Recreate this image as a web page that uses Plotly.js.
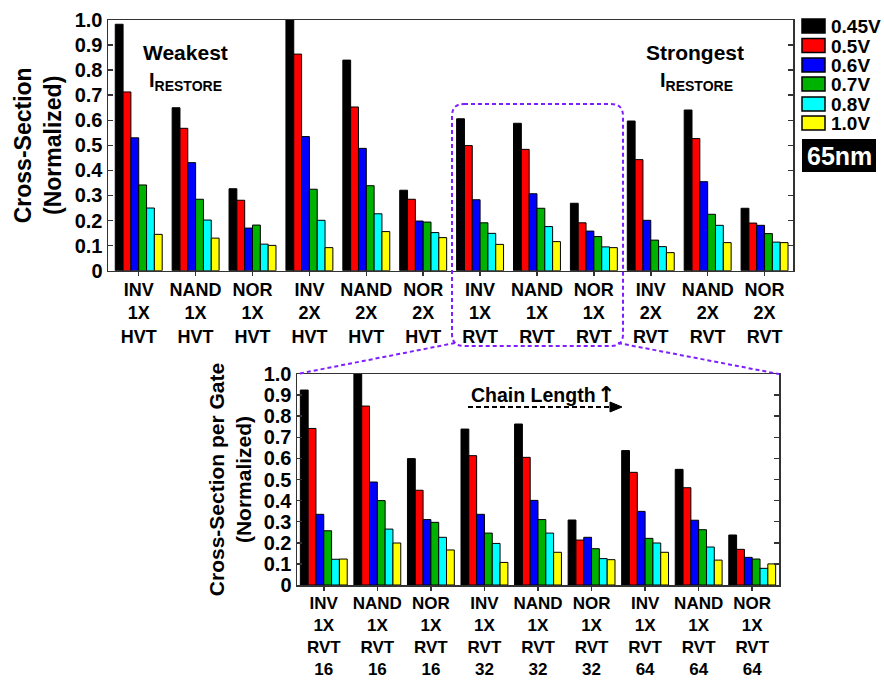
<!DOCTYPE html>
<html>
<head>
<meta charset="utf-8">
<script src="https://cdn.plot.ly/plotly-3.0.1.min.js"></script>
<style>body{margin:0;background:#fff}</style>
</head>
<body>
<div id="chart" style="width:884px;height:681px"></div>
<script>
// ---------- data ----------
const VOLTAGES = ['0.45V', '0.5V', '0.6V', '0.7V', '0.8V', '1.0V'];
const COLORS = ['#000000', '#FF0000', '#0000FF', '#00B200', '#00FFFF', '#FFFF00'];

const TOP_CATS = ['INV<br>1X<br>HVT', 'NAND<br>1X<br>HVT', 'NOR<br>1X<br>HVT',
                  'INV<br>2X<br>HVT', 'NAND<br>2X<br>HVT', 'NOR<br>2X<br>HVT',
                  'INV<br>1X<br>RVT', 'NAND<br>1X<br>RVT', 'NOR<br>1X<br>RVT',
                  'INV<br>2X<br>RVT', 'NAND<br>2X<br>RVT', 'NOR<br>2X<br>RVT'];
const TOP_045 = [0.983, 0.650, 0.327, 1.000, 0.840, 0.321, 0.606, 0.588, 0.269, 0.597, 0.641, 0.249];
const TOP_05  = [0.713, 0.568, 0.281, 0.864, 0.653, 0.285, 0.499, 0.484, 0.191, 0.443, 0.527, 0.190];
const TOP_06  = [0.530, 0.431, 0.170, 0.535, 0.488, 0.198, 0.283, 0.307, 0.158, 0.201, 0.355, 0.181];
const TOP_07  = [0.342, 0.285, 0.182, 0.325, 0.339, 0.194, 0.191, 0.249, 0.136, 0.122, 0.225, 0.148];
const TOP_08  = [0.250, 0.202, 0.106, 0.201, 0.227, 0.152, 0.149, 0.176, 0.095, 0.096, 0.181, 0.114];
const TOP_10  = [0.145, 0.130, 0.101, 0.092, 0.156, 0.132, 0.105, 0.116, 0.092, 0.072, 0.112, 0.112];

const BOT_CATS = ['INV<br>1X<br>RVT<br>16', 'NAND<br>1X<br>RVT<br>16', 'NOR<br>1X<br>RVT<br>16',
                  'INV<br>1X<br>RVT<br>32', 'NAND<br>1X<br>RVT<br>32', 'NOR<br>1X<br>RVT<br>32',
                  'INV<br>1X<br>RVT<br>64', 'NAND<br>1X<br>RVT<br>64', 'NOR<br>1X<br>RVT<br>64'];
const BOT_045 = [0.924, 1.000, 0.599, 0.739, 0.763, 0.308, 0.637, 0.548, 0.237];
const BOT_05  = [0.742, 0.848, 0.449, 0.613, 0.605, 0.213, 0.534, 0.461, 0.169];
const BOT_06  = [0.335, 0.488, 0.310, 0.335, 0.401, 0.226, 0.349, 0.307, 0.131];
const BOT_07  = [0.257, 0.400, 0.297, 0.246, 0.310, 0.172, 0.221, 0.262, 0.123];
const BOT_08  = [0.122, 0.265, 0.226, 0.197, 0.246, 0.125, 0.199, 0.180, 0.079];
const BOT_10  = [0.123, 0.199, 0.166, 0.107, 0.155, 0.120, 0.155, 0.118, 0.100];

const Y_TICKVALS = [0, 0.1, 0.2, 0.3, 0.4, 0.5, 0.6, 0.7, 0.8, 0.9, 1.0];
const Y_TICKTEXT = ['0', '0.1', '0.2', '0.3', '0.4', '0.5', '0.6', '0.7', '0.8', '0.9', '1.0'];

const TOP_SERIES = [TOP_045, TOP_05, TOP_06, TOP_07, TOP_08, TOP_10];
const BOT_SERIES = [BOT_045, BOT_05, BOT_06, BOT_07, BOT_08, BOT_10];

// ---------- geometry helpers ----------
const W = 884, H = 681;
const px = x => x / W;
const py = y => 1 - y / H;
const P = (x, y) => px(x).toFixed(5) + ',' + py(y).toFixed(5);

const FONT = 'Liberation Sans, Arial, Helvetica, sans-serif';
const AXIS_COL = '#333333';
const PURPLE = '#7F1FFF';

// ---------- traces ----------
const traces = [];
const topW = 0.825 / 6, botW = 0.875 / 6;
VOLTAGES.forEach((v, k) => {
  traces.push({
    type: 'bar', name: v, x: TOP_CATS, y: TOP_SERIES[k], xaxis: 'x', yaxis: 'y',
    width: topW, offset: -0.4125 + k * topW,
    marker: {color: COLORS[k], line: {color: '#000', width: 1}},
    showlegend: false, hoverinfo: 'y'
  });
  traces.push({
    type: 'bar', name: v, x: BOT_CATS, y: BOT_SERIES[k], xaxis: 'x2', yaxis: 'y2',
    width: botW, offset: -0.4375 + k * botW,
    marker: {color: COLORS[k], line: {color: '#000', width: 1}},
    showlegend: false, hoverinfo: 'y'
  });
});

// ---------- axes ----------
const yCommon = {
  range: [0, 1], tickvals: Y_TICKVALS, ticktext: Y_TICKTEXT,
  ticks: 'inside', ticklen: 5, tickwidth: 1.5, tickcolor: AXIS_COL,
  showline: true, linecolor: AXIS_COL, linewidth: 1.5, mirror: 'ticks',
  showgrid: false, zeroline: false, automargin: false,
  tickfont: {family: FONT, size: 20, weight: 'bold', color: '#000'}
};
const xCommon = {
  type: 'category',
  ticks: 'outside', ticklen: 4, tickwidth: 1.5, tickcolor: AXIS_COL,
  showline: true, linecolor: AXIS_COL, linewidth: 1.5, mirror: true,
  showgrid: false, zeroline: false, automargin: false
};

const shapes = [];
const annotations = [];

// purple zoom box and connectors
const L = 452, T = 104, R = 623, B = 346, r = 12;
shapes.push({
  type: 'path', xref: 'paper', yref: 'paper',
  path: `M${P(L + r, T)} L${P(R - r, T)} Q${P(R, T)} ${P(R, T + r)} L${P(R, B - r)} Q${P(R, B)} ${P(R - r, B)} L${P(L + r, B)} Q${P(L, B)} ${P(L, B - r)} L${P(L, T + r)} Q${P(L, T)} ${P(L + r, T)} Z`,
  line: {color: PURPLE, width: 2, dash: '4px,3px'}, fillcolor: 'rgba(0,0,0,0)'
});
shapes.push({type: 'line', xref: 'paper', yref: 'paper', x0: px(455), y0: py(343), x1: px(297), y1: py(374),
  line: {color: PURPLE, width: 2, dash: '4px,3px'}});
shapes.push({type: 'line', xref: 'paper', yref: 'paper', x0: px(618), y0: py(343), x1: px(779), y1: py(374),
  line: {color: PURPLE, width: 2, dash: '4px,3px'}});

// custom legend
const LEG_Y = [26, 45.5, 65, 84, 104, 123];
VOLTAGES.forEach((v, k) => {
  shapes.push({type: 'rect', xref: 'paper', yref: 'paper',
    x0: px(802), x1: px(825), y0: py(LEG_Y[k] + 7), y1: py(LEG_Y[k] - 7),
    fillcolor: COLORS[k], line: {color: '#000', width: 1.5}});
  annotations.push({xref: 'paper', yref: 'paper', x: px(829), y: py(LEG_Y[k] + 1),
    xanchor: 'left', yanchor: 'middle', showarrow: false, text: v,
    font: {family: FONT, size: 19, weight: 'bold', color: '#000'}});
});

// 65nm box
shapes.push({type: 'rect', xref: 'paper', yref: 'paper', x0: px(802), x1: px(876), y0: py(172), y1: py(139),
  fillcolor: '#000', line: {color: '#000', width: 0}});
annotations.push({xref: 'paper', yref: 'paper', x: px(839), y: py(156), xanchor: 'center', yanchor: 'middle',
  showarrow: false, text: '65nm', font: {family: FONT, size: 25, weight: 'bold', color: '#fff'}});

// weakest / strongest
annotations.push({xref: 'paper', yref: 'paper', x: px(185), y: py(52), xanchor: 'center', yanchor: 'middle',
  showarrow: false, text: 'Weakest', font: {family: FONT, size: 21, weight: 'bold', color: '#000'}});
annotations.push({xref: 'paper', yref: 'paper', x: px(185), y: py(81), xanchor: 'center', yanchor: 'middle',
  showarrow: false, text: 'I<sub>RESTORE</sub>', font: {family: FONT, size: 20, weight: 'bold', color: '#000'}});
annotations.push({xref: 'paper', yref: 'paper', x: px(695), y: py(52), xanchor: 'center', yanchor: 'middle',
  showarrow: false, text: 'Strongest', font: {family: FONT, size: 21, weight: 'bold', color: '#000'}});
annotations.push({xref: 'paper', yref: 'paper', x: px(696), y: py(81), xanchor: 'center', yanchor: 'middle',
  showarrow: false, text: 'I<sub>RESTORE</sub>', font: {family: FONT, size: 20, weight: 'bold', color: '#000'}});

// chain length
annotations.push({xref: 'paper', yref: 'paper', x: px(469), y: py(395), xanchor: 'left', yanchor: 'middle',
  showarrow: false, text: 'Chain Length', font: {family: FONT, size: 19.5, weight: 'bold', color: '#000'}});
annotations.push({xref: 'paper', yref: 'paper', x: px(606), y: py(394), xanchor: 'center', yanchor: 'middle',
  showarrow: false, text: '\u2191', font: {family: 'DejaVu Sans, sans-serif', size: 22, weight: 'bold', color: '#000'}});
shapes.push({type: 'line', xref: 'paper', yref: 'paper', x0: px(468), y0: py(407), x1: px(611), y1: py(407),
  line: {color: '#000', width: 2, dash: '5px,3px'}});
shapes.push({type: 'path', xref: 'paper', yref: 'paper',
  path: `M${P(610, 402)} L${P(622, 407)} L${P(610, 412)} Z`, fillcolor: '#000', line: {color: '#000', width: 1}});

const layout = {
  width: W, height: H,
  margin: {l: 0, r: 0, t: 0, b: 0},
  paper_bgcolor: '#fff', plot_bgcolor: '#fff',
  showlegend: false,
  barmode: 'group',
  font: {family: FONT, color: '#000'},
  xaxis: Object.assign({}, xCommon, {
    domain: [108 / W, 793 / W], anchor: 'y', range: [-0.54, 11.5],
    ticklabelstandoff: -2,
    tickfont: {family: FONT, size: 18, weight: 'bold', color: '#000'}
  }),
  yaxis: Object.assign({}, yCommon, {
    domain: [py(270.7), py(20)], anchor: 'x',
    title: {text: 'Cross-Section<br>(Normalized)', standoff: 6,
      font: {family: FONT, size: 23, weight: 'bold', color: '#000'}}
  }),
  xaxis2: Object.assign({}, xCommon, {
    domain: [297 / W, 779 / W], anchor: 'y2', range: [-0.5, 8.5],
    ticklabelstandoff: -2,
    tickfont: {family: FONT, size: 17, weight: 'bold', color: '#000'}
  }),
  yaxis2: Object.assign({}, yCommon, {
    domain: [py(585), py(374)], anchor: 'x2',
    title: {text: 'Cross-Section per Gate<br>(Normalized)', standoff: 6,
      font: {family: FONT, size: 21, weight: 'bold', color: '#000'}}
  }),
  xaxis3: {
    overlaying: 'x', anchor: 'y', side: 'top', range: [-0.54, 11.5],
    tickvals: [0, 1, 2, 3, 4, 5, 6, 7, 8, 9, 10, 11], showticklabels: false,
    ticks: 'inside', ticklen: 5, tickwidth: 1.5, tickcolor: AXIS_COL,
    showline: false, showgrid: false, zeroline: false, automargin: false
  },
  xaxis4: {
    overlaying: 'x2', anchor: 'y2', side: 'top', range: [-0.5, 8.5],
    tickvals: [0, 1, 2, 3, 4, 5, 6, 7, 8], showticklabels: false,
    ticks: 'inside', ticklen: 5, tickwidth: 1.5, tickcolor: AXIS_COL,
    showline: false, showgrid: false, zeroline: false, automargin: false
  },
  shapes: shapes,
  annotations: annotations
};

Plotly.newPlot('chart', traces, layout, {displayModeBar: false, staticPlot: true});
</script>
</body>
</html>
